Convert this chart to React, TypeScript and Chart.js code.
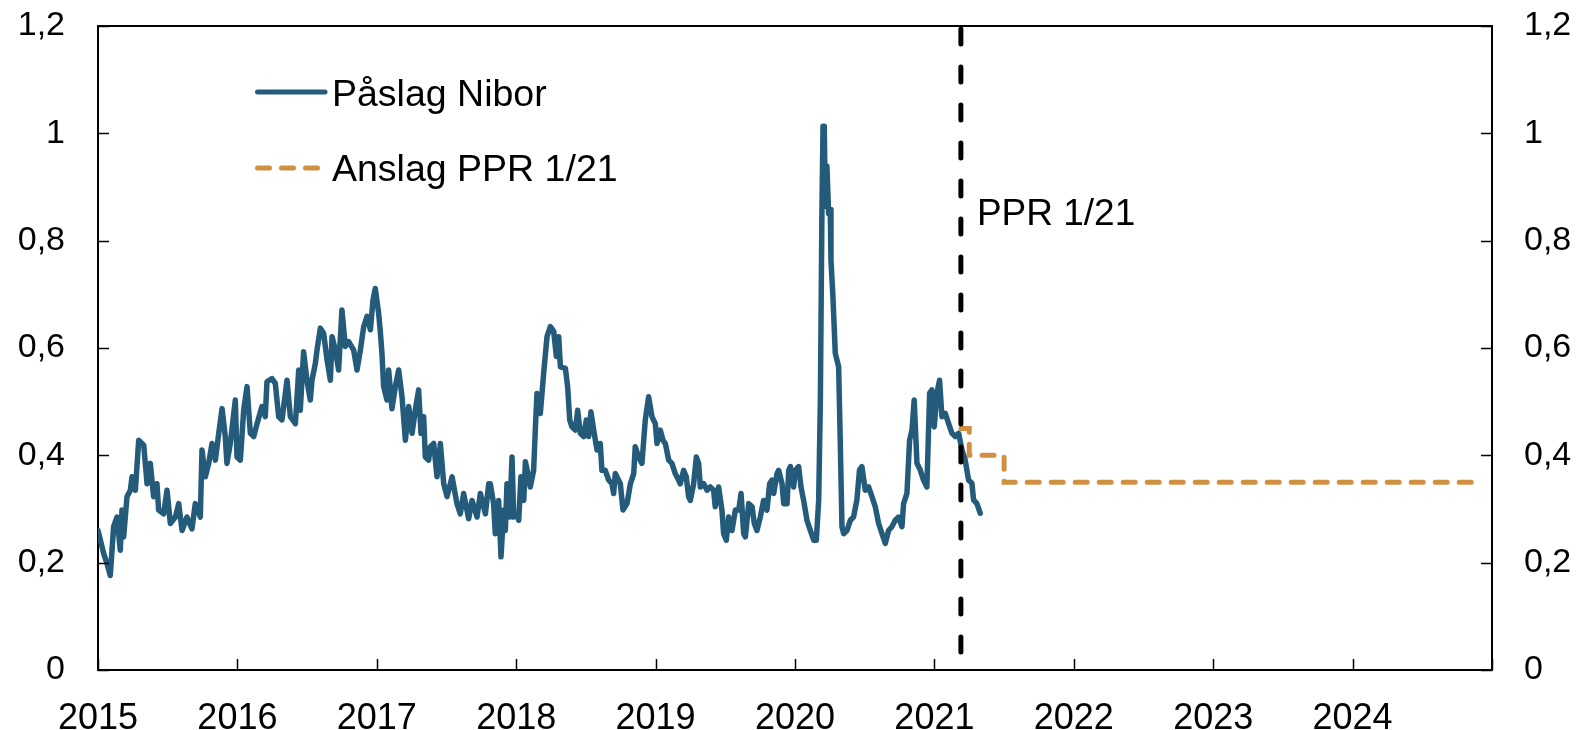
import React, { useEffect, useRef } from 'react';
import { Chart, registerables } from 'chart.js';

Chart.register(...registerables);

// ---- Data ----
const seriesNames = ['Påslag Nibor', 'Anslag PPR 1/21'];

const niborYears = [
  2015.000, 2015.041, 2015.065, 2015.088, 2015.112, 2015.136, 2015.160, 2015.172, 2015.184, 2015.208,
  2015.232, 2015.244, 2015.268, 2015.292, 2015.328, 2015.352, 2015.375, 2015.399, 2015.423, 2015.435,
  2015.471, 2015.495, 2015.519, 2015.555, 2015.579, 2015.603, 2015.638, 2015.674, 2015.698, 2015.734,
  2015.746, 2015.770, 2015.794, 2015.818, 2015.842, 2015.866, 2015.890, 2015.913, 2015.925, 2015.949,
  2015.985, 2015.997, 2016.021, 2016.045, 2016.069, 2016.093, 2016.117, 2016.141, 2016.176, 2016.200,
  2016.212, 2016.248, 2016.272, 2016.296, 2016.320, 2016.356, 2016.380, 2016.416, 2016.440, 2016.451,
  2016.475, 2016.499, 2016.523, 2016.535, 2016.559, 2016.571, 2016.595, 2016.619, 2016.643, 2016.667,
  2016.679, 2016.703, 2016.726, 2016.750, 2016.774, 2016.798, 2016.834, 2016.858, 2016.882, 2016.906,
  2016.930, 2016.954, 2016.973, 2016.989, 2017.013, 2017.025, 2017.037, 2017.049, 2017.073, 2017.085,
  2017.109, 2017.133, 2017.157, 2017.181, 2017.205, 2017.229, 2017.253, 2017.276, 2017.300, 2017.317,
  2017.336, 2017.348, 2017.372, 2017.384, 2017.408, 2017.432, 2017.456, 2017.480, 2017.504, 2017.540,
  2017.575, 2017.599, 2017.623, 2017.659, 2017.683, 2017.719, 2017.743, 2017.779, 2017.803,
  2017.814, 2017.838, 2017.850, 2017.874, 2017.891, 2017.910, 2017.922, 2017.934, 2017.953, 2017.970,
  2017.982, 2018.006, 2018.018, 2018.034, 2018.054, 2018.066, 2018.089, 2018.101, 2018.125, 2018.137,
  2018.149, 2018.173, 2018.197, 2018.221, 2018.245, 2018.269, 2018.288, 2018.305, 2018.317, 2018.353,
  2018.369, 2018.384, 2018.400, 2018.424, 2018.441, 2018.460, 2018.484, 2018.503, 2018.520, 2018.536,
  2018.556, 2018.580, 2018.603, 2018.615, 2018.639, 2018.663, 2018.687, 2018.699, 2018.711, 2018.747,
  2018.766, 2018.795, 2018.819, 2018.843, 2018.854, 2018.878, 2018.902, 2018.926, 2018.950, 2018.974,
  2018.998, 2019.010, 2019.034, 2019.053, 2019.070, 2019.094, 2019.117, 2019.141, 2019.165, 2019.177,
  2019.201, 2019.220, 2019.237, 2019.249, 2019.273, 2019.292, 2019.309, 2019.321, 2019.345, 2019.369,
  2019.392, 2019.416, 2019.428, 2019.452, 2019.476, 2019.488, 2019.507, 2019.524, 2019.548, 2019.572,
  2019.596, 2019.613, 2019.632, 2019.644, 2019.668, 2019.692, 2019.708, 2019.727, 2019.751, 2019.775,
  2019.799, 2019.818, 2019.835, 2019.847, 2019.871, 2019.883, 2019.907, 2019.919, 2019.943, 2019.955,
  2019.967, 2019.990, 2020.002, 2020.026, 2020.043, 2020.062,
  2020.086, 2020.110, 2020.134, 2020.153, 2020.170, 2020.182, 2020.193, 2020.201, 2020.210, 2020.217,
  2020.229, 2020.241, 2020.253, 2020.258, 2020.272, 2020.289, 2020.313, 2020.325, 2020.337, 2020.349,
  2020.373, 2020.397, 2020.420, 2020.444, 2020.463, 2020.480, 2020.504, 2020.528, 2020.552, 2020.576,
  2020.600, 2020.624, 2020.648, 2020.671, 2020.695, 2020.719, 2020.743, 2020.767, 2020.779, 2020.803,
  2020.822, 2020.839, 2020.855, 2020.875, 2020.898, 2020.922, 2020.946, 2020.966, 2020.982, 2020.999,
  2021.018, 2021.037, 2021.054, 2021.078, 2021.102, 2021.126, 2021.150, 2021.174, 2021.198, 2021.221,
  2021.245, 2021.269, 2021.281, 2021.305, 2021.329,
];

const niborValues = [
  0.260, 0.217, 0.198, 0.176, 0.267, 0.285, 0.223, 0.298, 0.248, 0.323,
  0.335, 0.360, 0.335, 0.428, 0.419, 0.347, 0.385, 0.323, 0.347, 0.298,
  0.291, 0.335, 0.273, 0.285, 0.310, 0.260, 0.285, 0.263, 0.310, 0.285,
  0.410, 0.360, 0.385, 0.422, 0.391, 0.441, 0.487, 0.435, 0.385, 0.422,
  0.503, 0.397, 0.391, 0.484, 0.528, 0.441, 0.435, 0.459, 0.491, 0.472,
  0.537, 0.543, 0.534, 0.472, 0.466, 0.540, 0.472, 0.459, 0.559, 0.484,
  0.593, 0.540, 0.503, 0.540, 0.571, 0.596, 0.637, 0.627, 0.578, 0.540,
  0.621, 0.596, 0.559, 0.671, 0.603, 0.612, 0.596, 0.559, 0.596, 0.640,
  0.659, 0.634, 0.690, 0.711, 0.665, 0.631, 0.590, 0.528, 0.503, 0.559,
  0.487, 0.528, 0.559, 0.509, 0.428, 0.491, 0.441, 0.484, 0.522, 0.441,
  0.472, 0.397, 0.391, 0.416, 0.422, 0.360, 0.422, 0.347, 0.323, 0.360,
  0.310, 0.291, 0.329, 0.282, 0.316, 0.285, 0.329, 0.291, 0.347,
  0.347, 0.310, 0.254, 0.316, 0.211, 0.298, 0.260, 0.347, 0.285, 0.397,
  0.285, 0.291, 0.279, 0.360, 0.316, 0.388, 0.360, 0.341, 0.372, 0.447,
  0.515, 0.478, 0.553, 0.621, 0.640, 0.631, 0.584, 0.621, 0.565, 0.562,
  0.528, 0.466, 0.453, 0.447, 0.484, 0.441, 0.435, 0.466, 0.435, 0.481,
  0.447, 0.410, 0.422, 0.372, 0.372, 0.354, 0.347, 0.329, 0.366, 0.347,
  0.298, 0.310, 0.347, 0.366, 0.416, 0.397, 0.385, 0.466, 0.509, 0.472,
  0.459, 0.422, 0.447, 0.428, 0.422, 0.391, 0.385, 0.366, 0.354, 0.347,
  0.372, 0.360, 0.323, 0.316, 0.347, 0.397, 0.385, 0.341, 0.347, 0.335,
  0.341, 0.335, 0.304, 0.341, 0.298, 0.254, 0.242, 0.285, 0.260, 0.298,
  0.298, 0.329, 0.254, 0.248, 0.310, 0.304, 0.273, 0.260, 0.285, 0.316,
  0.298, 0.347, 0.354, 0.329, 0.366, 0.372, 0.347, 0.310, 0.310, 0.372,
  0.379, 0.341, 0.372, 0.379, 0.341, 0.316,
  0.279, 0.260, 0.242, 0.242, 0.317, 0.503, 0.851, 1.013, 1.013, 0.864,
  0.939, 0.851, 0.858, 0.764, 0.696, 0.590, 0.565, 0.422, 0.267, 0.254,
  0.260, 0.279, 0.285, 0.317, 0.373, 0.379, 0.335, 0.341, 0.323, 0.304,
  0.273, 0.254, 0.236, 0.260, 0.267, 0.279, 0.285, 0.267, 0.310, 0.329,
  0.428, 0.447, 0.503, 0.385, 0.373, 0.354, 0.341, 0.516, 0.522, 0.453,
  0.516, 0.540, 0.472, 0.478, 0.459, 0.441, 0.435, 0.441, 0.410, 0.391,
  0.354, 0.348, 0.317, 0.310, 0.292,
];

const forecastYears = [2021.19, 2021.25, 2021.5, 2024.93];
const forecastValues = [0.45, 0.40, 0.35, 0.35];

const pprDate = 2021.19;
const pprLabel = 'PPR 1/21';
const pprLabelLevel = 0.83;

const xMin = 2015;
const xMax = 2025;
const xTickYears = [2015, 2016, 2017, 2018, 2019, 2020, 2021, 2022, 2023, 2024, 2025];
const yTickValues = [0, 0.2, 0.4, 0.6, 0.8, 1.0, 1.2];

// ---- Styles ----
const FONT = '"Liberation Sans", Arial, Helvetica, sans-serif';
const BLUE = '#245B7B';
const ORANGE = '#D18F42';

const fmtY = (v: number) => {
  const r = Math.round(v * 10) / 10;
  return String(r).replace('.', ',');
};

const decorPlugin = {
  id: 'decor',
  afterDatasetsDraw(chart: any) {
    const { ctx, chartArea: a, scales } = chart;
    const x = scales.x;
    const y = scales.y;
    ctx.save();
    // vertical dashed PPR line
    const px = x.getPixelForValue(pprDate);
    ctx.strokeStyle = '#000';
    ctx.lineWidth = 5;
    ctx.lineCap = 'round';
    ctx.setLineDash([15, 23]);
    ctx.beginPath();
    ctx.moveTo(px, a.top + 3);
    ctx.lineTo(px, a.bottom - 2);
    ctx.stroke();
    ctx.setLineDash([]);
    // PPR label
    ctx.fillStyle = '#000';
    ctx.font = `37px ${FONT}`;
    ctx.textAlign = 'left';
    ctx.textBaseline = 'alphabetic';
    ctx.fillText(pprLabel, px + 16, y.getPixelForValue(pprLabelLevel));
    ctx.restore();
  },
  afterDraw(chart: any) {
    const { ctx, chartArea: a, scales } = chart;
    ctx.save();
    ctx.strokeStyle = '#000';
    // top border
    ctx.lineWidth = 2;
    ctx.beginPath();
    ctx.moveTo(a.left, a.top);
    ctx.lineTo(a.right, a.top);
    ctx.stroke();
    // inner tick marks
    ctx.lineWidth = 1.5;
    const tl = 11;
    ctx.beginPath();
    xTickYears.forEach((t) => {
      const px = Math.round(scales.x.getPixelForValue(t)) + 0.5;
      ctx.moveTo(px, a.bottom);
      ctx.lineTo(px, a.bottom - tl);
    });
    yTickValues.forEach((v) => {
      const py = Math.round(scales.y.getPixelForValue(v)) + 0.5;
      ctx.moveTo(a.left, py);
      ctx.lineTo(a.left + tl, py);
      ctx.moveTo(a.right, py);
      ctx.lineTo(a.right - tl, py);
    });
    ctx.stroke();

    // legend
    const lx0 = a.left + 157;
    const lx1 = a.left + 227;
    const ly1 = a.top + 66;
    const ly2 = a.top + 142;
    ctx.lineCap = 'round';
    ctx.lineWidth = 5;
    ctx.strokeStyle = BLUE;
    ctx.beginPath();
    ctx.moveTo(lx0 + 2.5, ly1);
    ctx.lineTo(lx1, ly1);
    ctx.stroke();
    ctx.strokeStyle = ORANGE;
    ctx.setLineDash([12, 12]);
    ctx.beginPath();
    ctx.moveTo(lx0 + 2.5, ly2);
    ctx.lineTo(lx0 + 66, ly2);
    ctx.stroke();
    ctx.setLineDash([]);
    ctx.fillStyle = '#000';
    ctx.font = `37.5px ${FONT}`;
    ctx.textAlign = 'left';
    ctx.textBaseline = 'alphabetic';
    ctx.fillText(seriesNames[0], a.left + 234, a.top + 80);
    ctx.fillText(seriesNames[1], a.left + 234, a.top + 155);
    ctx.restore();
  },
};

export default function App() {
  const canvasRef = useRef<HTMLCanvasElement | null>(null);

  useEffect(() => {
    document.body.style.margin = '0';
    const canvas = canvasRef.current;
    if (!canvas) return;

    const niborData = niborYears.map((t, i) => ({ x: t, y: niborValues[i] }));
    const forecastData = forecastYears.map((t, i) => ({ x: t, y: forecastValues[i] }));

    const yFont = { family: FONT, size: 34 };
    const xFont = { family: FONT, size: 36 };

    const fixV = (w: number) => (scale: any) => {
      scale.width = w;
      scale.paddingTop = 0;
      scale.paddingBottom = 0;
    };

    const chart = new Chart(canvas, {
      type: 'line',
      data: {
        datasets: [
          {
            label: seriesNames[0],
            data: niborData,
            borderColor: BLUE,
            backgroundColor: BLUE,
            borderWidth: 5.5,
            pointRadius: 0,
            tension: 0,
            borderJoinStyle: 'round',
            borderCapStyle: 'round',
            fill: false,
          },
          {
            label: seriesNames[1],
            data: forecastData,
            borderColor: ORANGE,
            backgroundColor: ORANGE,
            borderWidth: 5,
            borderDash: [12, 12],
            borderCapStyle: 'round',
            pointRadius: 0,
            stepped: 'before',
            fill: false,
          },
        ],
      },
      options: {
        responsive: false,
        animation: false,
        devicePixelRatio: 1,
        layout: { padding: { top: 26, left: 0, right: 0, bottom: 0 } },
        plugins: {
          legend: { display: false },
          tooltip: { enabled: false },
        },
        scales: {
          x: {
            type: 'linear',
            position: 'bottom',
            min: xMin,
            max: xMax,
            afterBuildTicks: (scale: any) => {
              scale.ticks = xTickYears.map((v) => ({ value: v }));
            },
            afterFit: (scale: any) => {
              scale.height = 60;
              scale.paddingLeft = 0;
              scale.paddingRight = 0;
            },
            grid: { display: false, drawTicks: false },
            border: { display: true, color: '#000', width: 2 },
            ticks: {
              autoSkip: false,
              maxRotation: 0,
              minRotation: 0,
              padding: 27,
              color: '#000',
              font: xFont,
              callback: (v: any) => (Number(v) === xMax ? '' : String(v)),
            },
          },
          y: {
            type: 'linear',
            position: 'left',
            min: 0,
            max: 1.2,
            afterBuildTicks: (scale: any) => {
              scale.ticks = yTickValues.map((v) => ({ value: v }));
            },
            afterFit: fixV(98),
            grid: { display: false, drawTicks: false },
            border: { display: true, color: '#000', width: 2 },
            ticks: {
              padding: 33,
              color: '#000',
              font: yFont,
              callback: (v: any) => fmtY(Number(v)),
            },
          },
          y2: {
            type: 'linear',
            position: 'right',
            min: 0,
            max: 1.2,
            afterBuildTicks: (scale: any) => {
              scale.ticks = yTickValues.map((v) => ({ value: v }));
            },
            afterFit: fixV(87),
            grid: { display: false, drawTicks: false },
            border: { display: true, color: '#000', width: 2 },
            ticks: {
              padding: 32,
              color: '#000',
              font: yFont,
              callback: (v: any) => fmtY(Number(v)),
            },
          },
        },
      },
      plugins: [decorPlugin],
    } as any);

    return () => {
      chart.destroy();
    };
  }, []);

  return (
    <div style={{ width: 1579, height: 730, background: '#fff' }}>
      <canvas ref={canvasRef} width={1579} height={730} style={{ display: 'block' }} />
    </div>
  );
}
